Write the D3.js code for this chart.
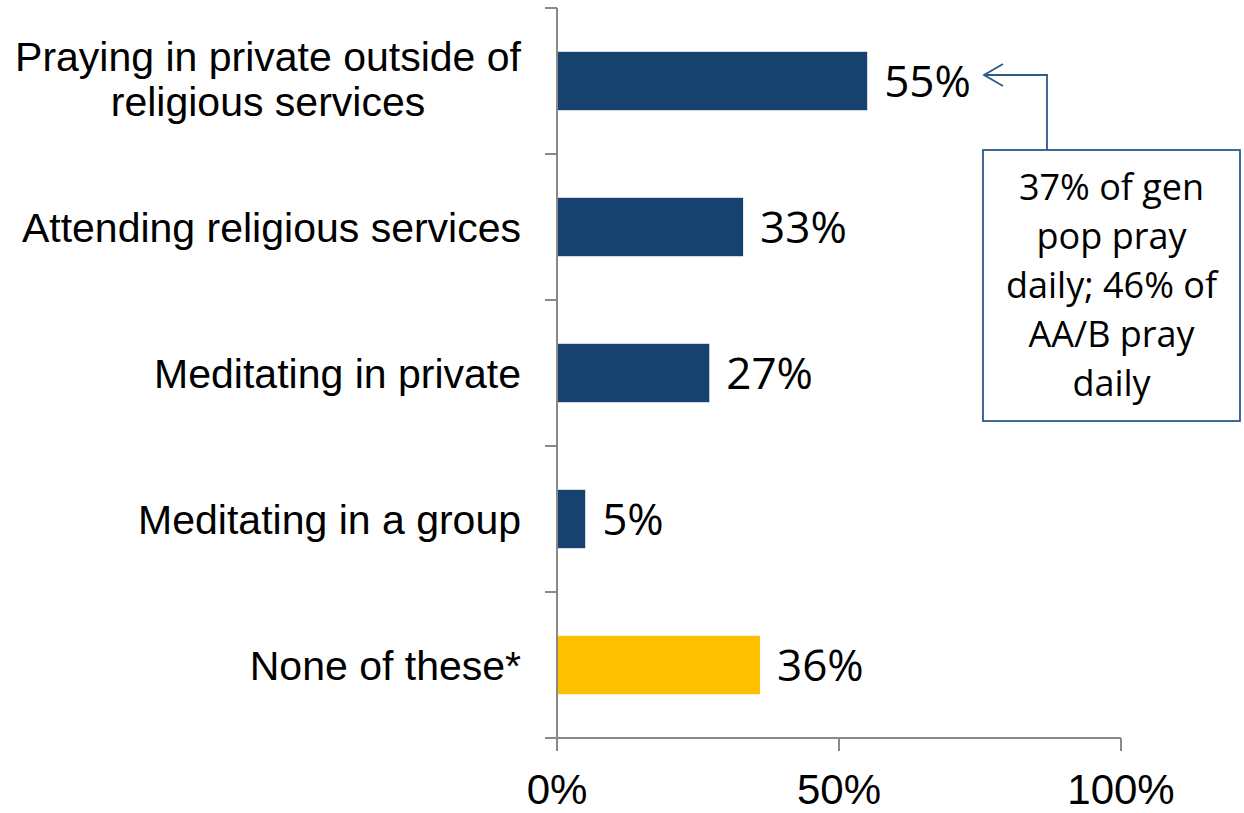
<!DOCTYPE html>
<html>
<head>
<meta charset="utf-8">
<script src="https://cdn.jsdelivr.net/npm/d3@7"></script>
<style>
  html, body { margin: 0; padding: 0; background: #ffffff; }
  svg { display: block; }
</style>
</head>
<body>
<svg id="chart" width="1244" height="813"></svg>
<script>
// Practices (category labels split into display lines)
const categories = [
  ["Praying in private outside of", "religious services"],
  ["Attending religious services"],
  ["Meditating in private"],
  ["Meditating in a group"],
  ["None of these*"]
];
const values = [55, 33, 27, 5, 36];
const barColors = ["#17426f", "#17426f", "#17426f", "#17426f", "#ffc000"];
const xTicks = [0, 50, 100];
const noteLines = ["37% of gen", "pop pray", "daily; 46% of", "AA/B pray", "daily"];

const svg = d3.select("#chart");
const axisColor = "#898989";
const labelFont = "'Liberation Sans', Arial, sans-serif";
const valueFont = "'Open Sans', 'Noto Sans', sans-serif";

const plot = { left: 557, right: 1121, top: 8, bottom: 738 };
const keys = categories.map((c, i) => i);

const x = d3.scaleLinear().domain([0, 100]).range([plot.left, plot.right]);
const y = d3.scaleBand().domain(keys).range([plot.top, plot.bottom])
  .paddingInner(0.6).paddingOuter(0.3);
const step = y.step();

// Bars
svg.append("g").selectAll("rect")
  .data(values)
  .join("rect")
  .attr("x", x(0))
  .attr("y", (d, i) => y(i))
  .attr("width", d => x(d) - x(0))
  .attr("height", y.bandwidth())
  .attr("fill", (d, i) => barColors[i]);

// Value labels
svg.append("g").selectAll("text")
  .data(values)
  .join("text")
  .attr("x", d => x(d) + 17)
  .attr("y", (d, i) => y(i) + y.bandwidth() / 2 + 16)
  .attr("font-family", valueFont)
  .attr("font-size", 44)
  .attr("fill", "#000")
  .text(d => d + "%");

// Vertical category axis with ticks between categories
const gY = svg.append("g");
gY.append("line")
  .attr("x1", plot.left).attr("x2", plot.left)
  .attr("y1", plot.top).attr("y2", plot.bottom)
  .attr("stroke", axisColor).attr("stroke-width", 2);
const boundaries = keys.map(k => y(k) - step * y.paddingInner() / 2).concat([plot.bottom]);
gY.selectAll("line.tick")
  .data(boundaries)
  .join("line")
  .attr("class", "tick")
  .attr("x1", plot.left - 12).attr("x2", plot.left)
  .attr("y1", d => d).attr("y2", d => d)
  .attr("stroke", axisColor).attr("stroke-width", 2);

// Category labels
const labelRight = plot.left - 36;
const lineGap = 45;
categories.forEach((lines, i) => {
  const cy = y(i) + y.bandwidth() / 2;
  if (lines.length === 1) {
    svg.append("text")
      .attr("font-family", labelFont)
      .attr("font-size", 41)
      .attr("fill", "#000")
      .attr("x", labelRight).attr("y", cy + 15)
      .attr("text-anchor", "end").text(lines[0]);
  } else {
    // multi-line labels are centred as a block, right-aligned to the axis
    const tmp = svg.append("text")
      .attr("font-family", labelFont).attr("font-size", 41).text(lines[0]);
    const w = tmp.node().getComputedTextLength();
    tmp.remove();
    const cx = labelRight - w / 2;
    lines.forEach((ln, j) => {
      svg.append("text")
        .attr("font-family", labelFont)
        .attr("font-size", 41)
        .attr("fill", "#000")
        .attr("text-anchor", "middle")
        .attr("x", cx)
        .attr("y", cy - 3 + (j - (lines.length - 1) / 2) * lineGap + 15)
        .text(ln);
    });
  }
});

// Horizontal value axis
const gX = svg.append("g").attr("transform", `translate(0,${plot.bottom})`);
gX.append("line")
  .attr("x1", plot.left - 12).attr("x2", plot.right)
  .attr("stroke", axisColor).attr("stroke-width", 2);
gX.selectAll("line.tick")
  .data(xTicks)
  .join("line")
  .attr("class", "tick")
  .attr("x1", d => x(d)).attr("x2", d => x(d))
  .attr("y1", 0).attr("y2", 13)
  .attr("stroke", axisColor).attr("stroke-width", 2);
gX.selectAll("text")
  .data(xTicks)
  .join("text")
  .attr("x", d => x(d))
  .attr("y", 66)
  .attr("text-anchor", "middle")
  .attr("font-family", labelFont)
  .attr("font-size", 42)
  .attr("fill", "#000")
  .text(d => d + "%");

// Callout box with elbow arrow pointing at the first value label
const note = { x: 983, y: 150, w: 257, h: 271 };
const noteColor = "#2b5a8a";
svg.append("rect")
  .attr("x", note.x).attr("y", note.y)
  .attr("width", note.w).attr("height", note.h)
  .attr("fill", "#fff")
  .attr("stroke", noteColor).attr("stroke-width", 1.8);

const elbowX = 1047;
const arrowY = y(0) + y.bandwidth() / 2 - 6;
const tipX = 984;
svg.append("path")
  .attr("d", `M${elbowX},${note.y} V${arrowY} H${tipX}`)
  .attr("fill", "none")
  .attr("stroke", noteColor).attr("stroke-width", 1.8);
svg.append("path")
  .attr("d", `M${tipX + 19},${arrowY - 11} L${tipX},${arrowY} L${tipX + 19},${arrowY + 11}`)
  .attr("fill", "none")
  .attr("stroke", noteColor).attr("stroke-width", 1.8);

svg.append("g").selectAll("text")
  .data(noteLines)
  .join("text")
  .attr("x", note.x + note.w / 2)
  .attr("y", (d, i) => 200 + i * 49)
  .attr("text-anchor", "middle")
  .attr("font-family", valueFont)
  .attr("font-size", 36)
  .attr("fill", "#000")
  .text(d => d);
</script>
</body>
</html>
